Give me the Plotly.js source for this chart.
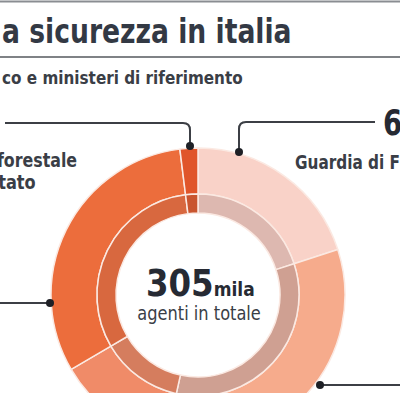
<!DOCTYPE html>
<html><head><meta charset="utf-8">
<script src="https://cdn.plot.ly/plotly-3.0.1.min.js"></script>
<style>html,body{margin:0;padding:0;overflow:hidden;background:#fff;width:400px;height:393px}#c{width:400px;height:500px}</style>
</head><body><div id="c"></div>
<script>
// Data (thousands of agents), clockwise from 12 o'clock
const corpi = ["Guardia di Finanza", "Carabinieri", "Polizia Penitenziaria", "Polizia di Stato", "Corpo forestale dello Stato"];
const agenti = [61, 102, 40, 96, 6];
const coloriEsterni = ["#f9d2c8", "#f6ab8c", "#f08b68", "#ec6d3c", "#e0552a"];
const coloriInterni = ["#ddb8b0", "#cfa092", "#d57d5e", "#d8683f", "#c9552f"];
const totale = "305";

const F = "'DejaVu Sans Condensed', 'Liberation Sans Narrow', sans-serif";
const W = 400, H = 500;
const cx = 198, cy = 295, rOut = 147, rMid = 101, rIn = 82;
function dom(r){ return {x:[(cx-r)/W,(cx+r)/W], y:[(H-cy-r)/H,(H-cy+r)/H]}; }

const traces = [
 {type:'pie', labels:corpi, values:agenti, sort:false, direction:'clockwise', rotation:0,
  hole:rMid/rOut, domain:dom(rOut), textinfo:'none', hoverinfo:'label+value',
  marker:{colors:coloriEsterni, line:{color:'#fbe9e2', width:1.5}}, showlegend:false},
 {type:'pie', labels:corpi, values:agenti, sort:false, direction:'clockwise', rotation:0,
  hole:rIn/rMid, domain:dom(rMid), textinfo:'none', hoverinfo:'label+value',
  marker:{colors:coloriInterni, line:{color:'#fbe9e2', width:1.5}}, showlegend:false}
];

const dark = '#2f3540';
const lineCol = '#3c3f45';
const shapes = [
 {type:'line', x0:0, x1:400, y0:1.5, y1:1.5, line:{color:'#8a8d92', width:2}},
 {type:'line', x0:0, x1:400, y0:57, y1:57, line:{color:'#55585e', width:1.5}},
 {type:'path', path:'M 5 123 L 183 123 Q 190 123 190 130 L 190 146', line:{color:lineCol, width:2}},
 {type:'circle', x0:186, x1:194, y0:142, y1:150, fillcolor:'#1e2026', line:{width:0}},
 {type:'path', path:'M 375 122 L 246 122 Q 239 122 239 129 L 239 152', line:{color:lineCol, width:2}},
 {type:'circle', x0:235, x1:243, y0:148, y1:156, fillcolor:'#1e2026', line:{width:0}},
 {type:'line', x0:0, x1:50, y0:303, y1:303, line:{color:lineCol, width:2}},
 {type:'circle', x0:46, x1:54, y0:299, y1:307, fillcolor:'#1e2026', line:{width:0}},
 {type:'line', x0:320, x1:400, y0:385, y1:385, line:{color:lineCol, width:2}},
 {type:'circle', x0:316, x1:324, y0:381, y1:389, fillcolor:'#1e2026', line:{width:0}}
];

function ann(text, x, y, size, xanchor, color, bold, h){
  const a = {text: bold ? '<b>'+text+'</b>' : text, x:x, y:y, xref:'x', yref:'y', showarrow:false,
    xanchor:xanchor, yanchor:'middle', font:{family:F, size:size, color:color||dark}};
  if(h) a.height = h;
  return a;
}
const annotations = [
 ann('a sicurezza in italia', 0, 31, 34, 'left', '#333944', true),
 ann('co e ministeri di riferimento', 0, 77, 18, 'left', '#3a3e46', true),
 ann('6', 381, 122, 36, 'left', '#262a33', true),
 ann('Guardia di Finanza', 293, 162, 20, 'left', '#3a3e46', true),
 ann('forestale', 79, 160, 20, 'right', '#3a3e46', true, 21),
 ann('tato', 38, 182, 20, 'right', '#3a3e46', true, 21),
 ann('<b>'+totale+'</b><b><span style="font-size:20px">mila</span></b>', 200, 283, 38, 'center', '#262a33', false),
 ann('agenti in totale', 199, 313, 19, 'center', '#3a3e46', false)
];
// horizontal condensing of the heavy condensed newspaper lettering
const squeeze = [0.87, 0.94, 0.85, 0.85, 0.88, 0.9, 0.95, 0.95];

const layout = {
  width:W, height:H, margin:{l:0,r:0,t:0,b:0}, paper_bgcolor:'#fff', plot_bgcolor:'rgba(0,0,0,0)',
  xaxis:{range:[0,W], visible:false, fixedrange:true},
  yaxis:{range:[H,0], visible:false, fixedrange:true},
  shapes:shapes, annotations:annotations, showlegend:false
};
Plotly.newPlot('c', traces, layout, {staticPlot:true, displayModeBar:false}).then(function(gd){
  gd.querySelectorAll('.annotation').forEach(function(g){
    const i = +g.getAttribute('data-index');
    const t = g.querySelector('text.annotation-text');
    if(!t) return;
    const s = squeeze[i];
    const b = t.getBBox();
    const xa = annotations[i].xanchor;
    const px = xa === 'left' ? b.x : (xa === 'right' ? b.x + b.width : b.x + b.width/2);
    t.setAttribute('transform', 'translate('+px+',0) scale('+s+',1) translate('+(-px)+',0)');
  });
});
</script></body></html>
